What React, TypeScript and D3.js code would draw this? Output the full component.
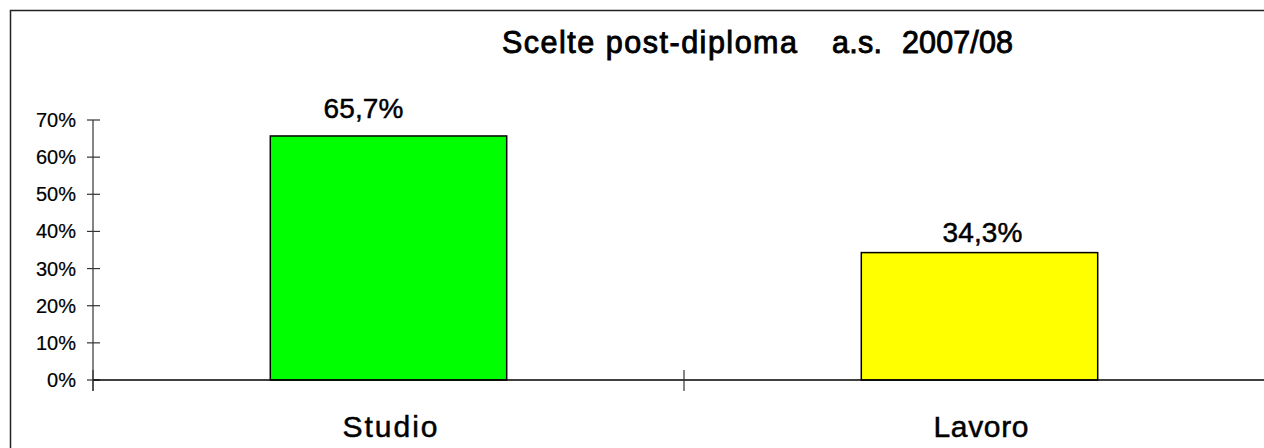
import React from "react";
import * as d3 from "d3";

const categories = ["Studio", "Lavoro"];
const values = [0.657, 0.343];
const valueLabels = ["65,7%", "34,3%"];
const colors = ["#00ff00", "#ffff00"];
const yTicks = [0, 0.1, 0.2, 0.3, 0.4, 0.5, 0.6, 0.7];
const yTickLabels = ["0%", "10%", "20%", "30%", "40%", "50%", "60%", "70%"];
const titleParts = ["Scelte post-diploma", "a.s.", "2007/08"];

export default function App() {
  const W = 1264, H = 448;
  const left = 93, right = 1275, top = 120, bottom = 380;
  const x = d3.scaleBand<string>().domain(categories).range([left, right]).paddingInner(0.6).paddingOuter(0.3);
  const step = x.step();
  const y = d3.scaleLinear().domain([0, 0.7]).range([bottom, top]);
  const font = "'Liberation Sans', Arial, sans-serif";
  const boundaries = d3.range(categories.length + 1).map((i) => left + i * step);
  // layout tweaks for value labels (manually placed in original)
  const labelNudge = [{ dx: -25, dy: -18 }, { dx: 3, dy: -11 }];
  const titleLayout = [{ x: 502, len: 295 }, { x: 832, len: 50 }, { x: 902, len: 111 }];
  const textStyle = { stroke: "#000", strokeWidth: 0.5 } as const;
  return (
    <svg width={W} height={H} style={{ position: "absolute", left: 0, top: 0, background: "#fff" }}>
      <rect x={10.5} y={10.5} width={1400} height={600} fill="#fff" stroke="#222" strokeWidth={1.5} />
      {titleParts.map((t, i) => (
        <text key={t} x={titleLayout[i].x} y={53} fontFamily={font} fontSize={30.5} fill="#000" stroke="#000" strokeWidth={0.9}
          textLength={titleLayout[i].len} lengthAdjust="spacing">{t}</text>
      ))}
      {categories.map((c, i) => {
        const cx = x(c)! + x.bandwidth() / 2;
        return (
          <g key={c}>
            <rect x={x(c)!} y={y(values[i])} width={x.bandwidth()} height={bottom - y(values[i])} fill={colors[i]} stroke="#000" strokeWidth={1.5} />
            <text x={cx + labelNudge[i].dx} y={y(values[i]) + labelNudge[i].dy} textAnchor="middle" fontFamily={font} fontSize={28} fill="#000" {...textStyle}
              textLength={80} lengthAdjust="spacing">{valueLabels[i]}</text>
            <text x={cx + 1.5} y={437} textAnchor="middle" fontFamily={font} fontSize={30} fill="#000" {...textStyle}
              textLength={95} lengthAdjust="spacing">{c}</text>
          </g>
        );
      })}
      <line x1={left} x2={left} y1={y(0.7)} y2={391} stroke="#333" strokeWidth={1.2} />
      {yTicks.map((t, i) => (
        <g key={t}>
          <line x1={left - 6} x2={left + 7} y1={y(t)} y2={y(t)} stroke="#333" strokeWidth={1.2} />
          <text x={76} y={y(t) + 7} textAnchor="end" fontFamily={font} fontSize={20} fill="#000" stroke="#000" strokeWidth={0.2}>{yTickLabels[i]}</text>
        </g>
      ))}
      <line x1={left} x2={right} y1={bottom} y2={bottom} stroke="#000" strokeWidth={1.5} />
      {boundaries.map((b) => (
        <line key={b} x1={b} x2={b} y1={370} y2={391} stroke="#333" strokeWidth={1.2} />
      ))}
    </svg>
  );
}
